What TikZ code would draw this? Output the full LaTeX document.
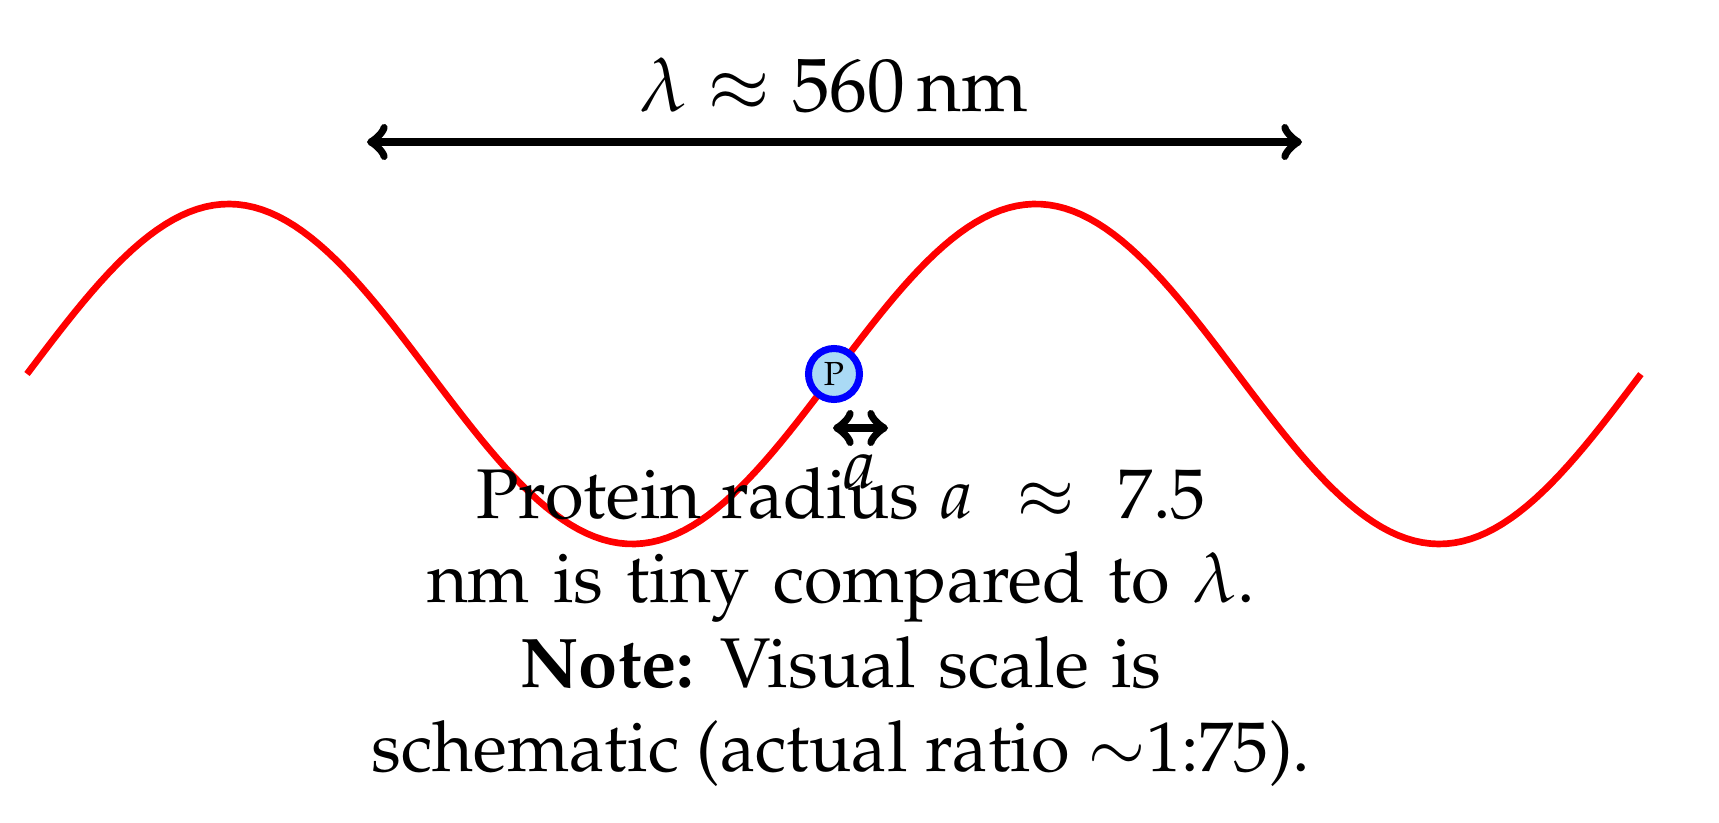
\documentclass[tikz,border=0pt]{standalone}
\usepackage[T1]{fontenc}
\usepackage{mathpazo}
\definecolor{protfill}{RGB}{170,218,245}

\begin{document}
\begin{tikzpicture}[
	wave/.style={red, line width=1.9pt},
	dimarrow/.style={<->, line width=2.5pt},
	protein/.style={circle, draw=blue, fill=protfill, line width=2pt, minimum size=0.51cm, inner sep=0pt, font=\fontsize{9.5}{11}\selectfont},
	biglabel/.style={font=\fontsize{20}{24}\selectfont, inner sep=0pt}]
	\useasboundingbox (0,0) rectangle (17.19,8.22);
	% light wave, two periods
	\draw[wave] plot[domain=0.27:16.41, samples=200] (\x, {4.48 + 1.7*sin(360*(\x-0.27)/8.07)});
	% wavelength
	\coordinate (lamL) at (3.67,6.80);
	\coordinate (lamR) at (13.02,6.80);
	\draw[dimarrow] (lamL) -- (lamR);
	\node[biglabel, font=\fontsize{21.5}{26}\selectfont, anchor=base] (lamlab) at (8.34,7.10) {$\lambda \approx 560\,\mathrm{nm}$};
	% protein
	\node[protein] (prot) at (8.34,4.48) {P};
	\coordinate (aL) at (8.33,3.94);
	\coordinate (aR) at (8.88,3.94);
	\draw[dimarrow] (aL) -- (aR);
	\node[biglabel] (alab) at (8.60,3.50) {$a$};
	\node[biglabel, align=center, anchor=north] (note) at (8.41,3.55) {{\spaceskip=0.28em Protein radius $a\mskip 6mu\approx\mskip 6mu 7.5$}\\ {\spaceskip=0.33em nm is tiny compared to $\lambda$.}\\ {\spaceskip=0.32em \textbf{Note:} Visual scale is}\\ schematic (actual ratio $\sim$1:75).};
\end{tikzpicture}
\end{document}
